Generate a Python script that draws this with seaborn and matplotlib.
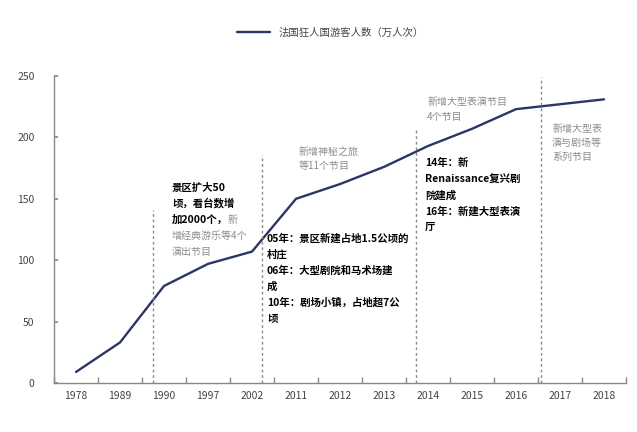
import numpy as np
import pandas as pd
import matplotlib
matplotlib.use("Agg")
import matplotlib.pyplot as plt
import seaborn as sns

sns.set_theme(style="white")
plt.rcParams['font.family'] = ['Noto Sans CJK SC', 'DejaVu Sans']
plt.rcParams['axes.unicode_minus'] = False

# ---- data ----
years = ["1978", "1989", "1990", "1997", "2002", "2011", "2012",
         "2013", "2014", "2015", "2016", "2017", "2018"]
visitors = [9, 33, 79, 97, 107, 150, 162, 176, 193, 207, 223, 227, 231]
series_name = "法国狂人国游客人数（万人次）"
y_ticks = [0, 50, 100, 150, 200, 250]

# dashed separators (category position, height)
sep_pos = [1.75, 4.23, 7.73, 10.57]
sep_top = [141, 186, 207, 249]

# annotation blocks: (x, y of first row, row step pt, lines); each line list of (text, style)
B, G = "bold", "gray"
ann_x = [2.18, 5.05, 4.34, 7.98, 7.93, 10.82]
ann_y = [160, 189.5, 118.5, 229.6, 179.7, 208]
ann_step = [11.5, 10.8, 11.5, 10.8, 11.5, 10.2]
ann_lines = [
    [[("景区扩大50", B)], [("顷，看台数增", B)], [("加2000个，", B), ("新", G)],
     [("增经典游乐等4个", G)], [("演出节目", G)]],
    [[("新增神秘之旅", G)], [("等11个节目", G)]],
    [[("05年：景区新建占地1.5公顷的", B)], [("村庄", B)],
     [("06年：大型剧院和马术场建", B)], [("成", B)],
     [("10年：剧场小镇，占地超7公", B)], [("顷", B)]],
    [[("新增大型表演节目", G)], [("4个节目", G)]],
    [[("14年：新", B)], [("Renaissance复兴剧", B)], [("院建成", B)],
     [("16年：新建大型表演", B)], [("厅", B)]],
    [[("新增大型表", G)], [("演与剧场等", G)], [("系列节目", G)]],
]

df = pd.DataFrame({"pos": np.arange(len(years)), "visitors": visitors})

fig = plt.figure(figsize=(6.37, 4.32), dpi=100)
ax = fig.add_axes([54 / 637, 1 - 383 / 432, 572 / 637, 307 / 432])

sns.lineplot(data=df, x="pos", y="visitors", ax=ax, color="#2b3566",
             linewidth=1.7, label=series_name, legend=False)

ax.set_xlim(-0.5, len(years) - 0.5)
ax.set_ylim(0, 250)
ax.set_xticks(np.arange(len(years)))
ax.set_xticklabels(years)
ax.set_xticks(np.arange(len(years) + 1) - 0.5, minor=True)
ax.set_yticks(y_ticks)
ax.tick_params(axis="x", which="major", length=0, labelsize=7.5, colors="#444444", pad=6)
ax.tick_params(axis="x", which="minor", length=4, direction="in", color="#888888", bottom=True)
ax.tick_params(axis="y", length=3, direction="in", color="#888888", labelsize=7.5,
               labelcolor="#444444", pad=14, left=True)
for s in ["top", "right"]:
    ax.spines[s].set_visible(False)
for s in ["left", "bottom"]:
    ax.spines[s].set_color("#888888")
    ax.spines[s].set_linewidth(1.0)
ax.set_xlabel("")
ax.set_ylabel("")
ax.grid(False)

for p, t in zip(sep_pos, sep_top):
    ax.vlines(p, 0, t, colors="#8a8a8a", linestyles=(0, (2, 2)), linewidth=1.0)

styles = {B: dict(color="black", fontweight="bold", fontsize=7.5),
          G: dict(color="#8c8c8c", fontweight="normal", fontsize=7.2)}

for x, y, step, lines in zip(ann_x, ann_y, ann_step, ann_lines):
    for i, segs in enumerate(lines):
        prev = None
        for txt, st in segs:
            if prev is None:
                prev = ax.annotate(txt, xy=(x, y), xycoords="data",
                                   xytext=(0, -i * step - 3), textcoords="offset points",
                                   ha="left", va="baseline", **styles[st])
            else:
                prev = ax.annotate(txt, xy=(1, 0), xycoords=prev,
                                   ha="left", va="bottom", **styles[st])

h, l = ax.get_legend_handles_labels()
fig.legend(h, l, loc="center", bbox_to_anchor=(330 / 637, 1 - 33 / 432), frameon=False,
           fontsize=7.5, handlelength=3.2, labelcolor="#444444")

fig.savefig("out.png", dpi=100)
